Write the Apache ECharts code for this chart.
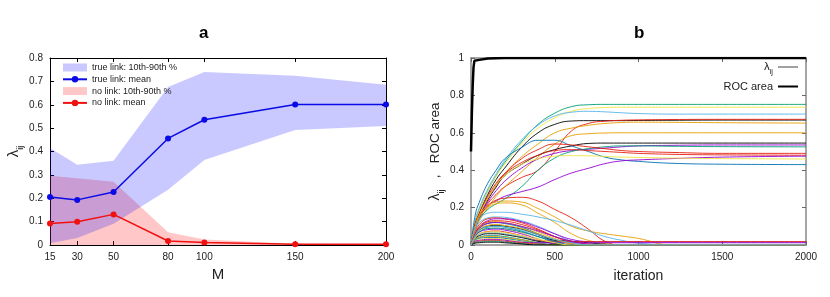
<!DOCTYPE html>
<html><head><meta charset="utf-8">
<script src="https://cdn.jsdelivr.net/npm/echarts@6/dist/echarts.min.js"></script>
<style>html,body{margin:0;padding:0;background:#fff}#c{width:830px;height:297px}</style>
</head><body><div id="c"></div>
<script>
// ---------- Panel a data ----------
const M_values = [15, 30, 50, 80, 100, 150, 200];
const mTickLabels = [15, 30, 50, 80, 100, 150, 200];
const trueMean = [0.205, 0.193, 0.227, 0.456, 0.536, 0.601, 0.601];
const trueP10  = [0.008, 0.030, 0.091, 0.236, 0.364, 0.492, 0.509];
const trueP90  = [0.415, 0.343, 0.360, 0.676, 0.740, 0.724, 0.686];
const noMean   = [0.092, 0.099, 0.131, 0.017, 0.011, 0.003, 0.003];
const noP10    = [0, 0, 0, 0, 0, 0, 0];
const noP90    = [0.296, 0.286, 0.271, 0.055, 0.024, 0.005, 0.003];

// ---------- Panel b data ----------
const iterSteps = [0, 25, 50, 100, 150, 200, 300, 400, 500, 600, 700, 800, 900, 1000, 1200, 1500, 2000];
const rocIter = [0, 5, 10, 15, 20, 50, 100, 200, 500, 1000, 2000];
const rocArea = [0.5, 0.7, 0.85, 0.95, 0.985, 0.99, 0.997, 1, 1, 1, 1];
const lambdaColors = [
  '#009e73','#f0e442','#56b4e9','#000000','#e51e10','#e69f00','#e69f00','#000000','#9400d3','#009e73',
  '#0072b2','#e51e10','#e51e10','#9400d3','#f0e442',
  '#e51e10','#e69f00','#e69f00','#56b4e9',
  '#56b4e9','#e51e10','#9400d3','#e69f00','#0072b2','#000000','#009e73','#f0e442','#9400d3','#e51e10',
  '#56b4e9','#000000','#009e73','#e69f00','#0072b2','#f0e442','#9400d3','#e51e10','#009e73','#000000',
  '#e51e10','#9400d3','#e69f00','#0072b2','#f0e442','#56b4e9'
];
const lambdaCurves = [
  [0,.12,.19,.29,.37,.44,.55,.645,.705,.74,.75,.752,.752,.752,.752,.752,.752],
  [0,.12,.19,.29,.37,.43,.54,.625,.68,.715,.73,.735,.737,.737,.737,.737,.737],
  [0,.13,.2,.3,.38,.45,.56,.64,.69,.71,.715,.712,.707,.703,.70,.70,.70],
  [0,.11,.17,.27,.35,.41,.52,.6,.645,.663,.665,.665,.665,.666,.667,.668,.668],
  [0,.09,.14,.22,.27,.31,.36,.40,.50,.61,.65,.662,.667,.669,.671,.672,.672],
  [0,.1,.16,.25,.32,.38,.47,.54,.60,.625,.64,.65,.655,.657,.656,.654,.652],
  [0,.08,.13,.2,.26,.31,.39,.47,.54,.585,.595,.599,.60,.60,.60,.60,.60],
  [0,.09,.15,.24,.31,.37,.43,.48,.51,.53,.543,.545,.545,.545,.545,.545,.545],
  [0,.09,.15,.23,.29,.34,.41,.46,.49,.505,.512,.518,.525,.53,.533,.535,.535],
  [0,.09,.14,.19,.22,.245,.31,.40,.465,.50,.515,.525,.53,.53,.528,.526,.525],
  [0,.16,.23,.33,.40,.46,.52,.56,.56,.53,.50,.47,.455,.447,.437,.432,.43],
  [0,.1,.16,.25,.32,.38,.46,.51,.54,.535,.525,.515,.505,.5,.495,.49,.49],
  [0,.11,.17,.26,.33,.38,.44,.48,.505,.51,.505,.5,.495,.49,.485,.482,.48],
  [0,.1,.15,.21,.235,.26,.285,.31,.35,.385,.41,.435,.45,.455,.462,.47,.475],
  [0,.1,.16,.25,.32,.37,.43,.46,.475,.478,.477,.474,.47,.468,.465,.462,.46],
  [0,.1,.16,.21,.24,.25,.255,.235,.19,.145,.085,.02,0,0,0,0,0],
  [0,.1,.16,.21,.23,.235,.23,.195,.15,.10,.075,.06,.048,.035,0,0,0],
  [0,.09,.15,.2,.22,.225,.215,.17,.12,.06,.025,.008,0,0,0,0,0],
  [0,.09,.14,.17,.175,.175,.165,.15,.13,.105,.075,.045,.025,.01,0,0,0],
  [0,.08,.12,.145,.15,.148,.13,.1,.06,.02,0,0,0,0,0,0,0],
  [0,.07,.11,.14,.145,.14,.12,.085,.045,.01,0,0,0,0,0,0,0],
  [0,.06,.1,.13,.14,.14,.125,.095,.06,.03,.018,.016,.016,.016,.016,.016,.016],
  [0,.07,.1,.12,.125,.12,.1,.07,.035,.005,0,0,0,0,0,0,0],
  [0,.06,.09,.115,.12,.115,.095,.06,.025,0,0,0,0,0,0,0,0],
  [0,.05,.08,.1,.105,.1,.085,.055,.025,.02,.012,.004,0,0,0,0,0],
  [0,.05,.08,.095,.1,.095,.075,.045,.015,0,0,0,0,0,0,0,0],
  [0,.05,.075,.088,.09,.085,.065,.035,.01,0,0,0,0,0,0,0,0],
  [0,.05,.07,.082,.085,.08,.06,.03,.005,0,0,0,0,0,0,0,0],
  [0,.04,.06,.072,.075,.07,.05,.025,.02,.018,.018,.018,.018,.018,.018,.018,.018],
  [0,.04,.055,.065,.065,.06,.045,.02,0,0,0,0,0,0,0,0,0],
  [0,.035,.05,.06,.06,.055,.04,.02,.01,0,0,0,0,0,0,0,0],
  [0,.03,.042,.05,.05,.045,.03,.012,0,0,0,0,0,0,0,0,0],
  [0,.03,.04,.045,.045,.04,.028,.01,0,0,0,0,0,0,0,0,0],
  [0,.025,.035,.04,.04,.036,.022,.008,0,0,0,0,0,0,0,0,0],
  [0,.02,.03,.035,.035,.03,.018,.005,0,0,0,0,0,0,0,0,0],
  [0,.02,.025,.03,.03,.026,.015,.012,.012,.012,.012,.012,.012,.012,.012,.012,.012],
  [0,.015,.02,.025,.025,.02,.012,.004,0,0,0,0,0,0,0,0,0],
  [0,.012,.016,.02,.02,.016,.008,0,0,0,0,0,0,0,0,0,0],
  [0,.01,.012,.015,.015,.012,.006,0,0,0,0,0,0,0,0,0,0],
  [0,.06,.095,.125,.13,.128,.11,.08,.045,.02,.005,0,0,0,0,0,0],
  [0,.055,.09,.115,.12,.118,.1,.075,.045,.02,.005,0,0,0,0,0,0],
  [0,.05,.085,.105,.11,.105,.088,.06,.03,.008,0,0,0,0,0,0,0],
  [0,.045,.07,.088,.09,.087,.07,.045,.02,0,0,0,0,0,0,0,0],
  [0,.04,.06,.07,.07,.066,.05,.03,.012,0,0,0,0,0,0,0,0],
  [0,.05,.08,.098,.1,.097,.08,.055,.03,.012,0,0,0,0,0,0,0]
];

const FONT = 'Liberation Sans';
const chart = echarts.init(document.getElementById('c'), null, {renderer: 'canvas'});

function band(lo, hi, color, z) {
  return {
    type: 'custom', xAxisIndex: 0, yAxisIndex: 0, silent: true, z: z,
    data: M_values.map((m, i) => [m, lo[i], hi[i]]),
    encode: {x: 0, y: [1, 2]},
    renderItem: function (params, api) {
      if (params.dataIndex !== 0) return null;
      const pts = [];
      for (let i = 0; i < M_values.length; i++) pts.push(api.coord([M_values[i], hi[i]]));
      for (let i = M_values.length - 1; i >= 0; i--) pts.push(api.coord([M_values[i], lo[i]]));
      return {type: 'polygon', shape: {points: pts}, style: {fill: color}};
    }
  };
}

const tickStyleA = {show: true, inside: true, length: 4, lineStyle: {color: '#000', width: 1}};
const tickStyleB = {show: true, inside: true, length: 4, lineStyle: {color: '#666', width: 1}};
const lineA = {show: true, onZero: false, lineStyle: {color: '#000', width: 1}};
const lineB = {show: true, onZero: false, lineStyle: {color: '#888', width: 1.5}};
const lbl = {color: '#222', fontSize: 10, fontFamily: FONT};

const series = [];
series.push(Object.assign(band(noP10, noP90, 'rgba(255,0,0,0.22)', 1), {name: 'no link: 10th-90th %'}));
series.push(Object.assign(band(trueP10, trueP90, 'rgba(0,0,255,0.21)', 2), {name: 'true link: 10th-90th %'}));
series.push({
  type: 'line', name: 'true link: mean', xAxisIndex: 0, yAxisIndex: 0, z: 5,
  data: M_values.map((m, i) => [m, trueMean[i]]),
  symbol: 'circle', symbolSize: 6, lineStyle: {color: '#0a0ae6', width: 1.5},
  itemStyle: {color: '#0a0ae6'}
});
series.push({
  type: 'line', name: 'no link: mean', xAxisIndex: 0, yAxisIndex: 0, z: 5,
  data: M_values.map((m, i) => [m, noMean[i]]),
  symbol: 'circle', symbolSize: 6, lineStyle: {color: '#f01010', width: 1.5},
  itemStyle: {color: '#f01010'}
});

lambdaCurves.forEach((vals, k) => {
  series.push({
    type: 'line', xAxisIndex: 2, yAxisIndex: 2, silent: true, z: 3,
    data: iterSteps.map((t, i) => [t, vals[i]]),
    symbol: 'none', smooth: 0.45,
    lineStyle: {color: lambdaColors[k % lambdaColors.length], width: 1, opacity: 0.9}
  });
});
series.push({
  type: 'line', name: 'lam', xAxisIndex: 2, yAxisIndex: 2, data: [],
  symbol: 'none', lineStyle: {color: '#a0a0a0', width: 1.5}, itemStyle: {color: '#a0a0a0'}
});
series.push({
  type: 'line', name: 'ROC area', xAxisIndex: 2, yAxisIndex: 2, z: 6,
  data: rocIter.map((t, i) => [t, rocArea[i]]),
  symbol: 'none', lineStyle: {color: '#000', width: 2.5}, itemStyle: {color: '#000'}
});

const option = {
  animation: false,
  backgroundColor: '#fff',
  textStyle: {fontFamily: FONT},
  grid: [
    {left: 50, top: 58, width: 336, height: 187},
    {left: 471, top: 58, width: 335, height: 187}
  ],
  xAxis: [
    {type: 'value', gridIndex: 0, min: 15, max: 200, position: 'bottom',
     axisLine: lineA, splitLine: {show: false},
     axisTick: Object.assign({customValues: mTickLabels}, tickStyleA),
     axisLabel: Object.assign({customValues: mTickLabels, margin: 7}, lbl),
     name: 'M', nameLocation: 'middle', nameGap: 21,
     nameTextStyle: {fontSize: 15, color: '#222', fontFamily: FONT}},
    {type: 'value', gridIndex: 0, min: 15, max: 200, position: 'top',
     axisLine: lineA, splitLine: {show: false},
     axisTick: Object.assign({customValues: mTickLabels}, tickStyleA),
     axisLabel: {show: false}},
    {type: 'value', gridIndex: 1, min: 0, max: 2000, interval: 500, position: 'bottom',
     axisLine: lineB, splitLine: {show: false}, axisTick: tickStyleB,
     axisLabel: Object.assign({margin: 7, formatter: v => String(v)}, lbl),
     name: 'iteration', nameLocation: 'middle', nameGap: 24,
     nameTextStyle: {fontSize: 14, color: '#222', fontFamily: FONT}},
    {type: 'value', gridIndex: 1, min: 0, max: 2000, interval: 500, position: 'top',
     axisLine: lineB, splitLine: {show: false}, axisTick: tickStyleB, axisLabel: {show: false}}
  ],
  yAxis: [
    {type: 'value', gridIndex: 0, min: 0, max: 0.8, interval: 0.1, position: 'left',
     axisLine: lineA, splitLine: {show: false}, axisTick: tickStyleA,
     axisLabel: Object.assign({margin: 7}, lbl),
     name: '{l|λ}{s|ij}', nameLocation: 'middle', nameGap: 25, nameRotate: 90,
     nameTextStyle: {rich: {
       l: {fontSize: 15, color: '#222', fontFamily: FONT, lineHeight: 18},
       s: {fontSize: 9, color: '#222', fontFamily: FONT, lineHeight: 18, verticalAlign: 'bottom', padding: [0, 0, -2, 0]}
     }}},
    {type: 'value', gridIndex: 0, min: 0, max: 0.8, interval: 0.1, position: 'right',
     axisLine: lineA, splitLine: {show: false}, axisTick: tickStyleA, axisLabel: {show: false}},
    {type: 'value', gridIndex: 1, min: 0, max: 1, interval: 0.2, position: 'left',
     axisLine: lineB, splitLine: {show: false}, axisTick: tickStyleB,
     axisLabel: Object.assign({margin: 7}, lbl),
     name: '{l|λ}{s|ij}{n|   ,   ROC area}', nameLocation: 'middle', nameGap: 21, nameRotate: 90,
     nameTextStyle: {rich: {
       l: {fontSize: 14, color: '#222', fontFamily: FONT, lineHeight: 18},
       s: {fontSize: 9, color: '#222', fontFamily: FONT, lineHeight: 18, verticalAlign: 'bottom', padding: [0, 0, -2, 0]},
       n: {fontSize: 13.5, color: '#222', fontFamily: FONT, lineHeight: 18}
     }}},
    {type: 'value', gridIndex: 1, min: 0, max: 1, interval: 0.2, position: 'right',
     axisLine: lineB, splitLine: {show: false}, axisTick: tickStyleB, axisLabel: {show: false}}
  ],
  legend: [
    {left: 57, top: 58, orient: 'vertical', itemGap: 2.8, itemWidth: 24, itemHeight: 8,
     textStyle: {fontSize: 9, color: '#222', fontFamily: FONT},
     data: [
       {name: 'true link: 10th-90th %', icon: 'rect', itemStyle: {color: 'rgba(0,0,255,0.21)'}},
       {name: 'true link: mean'},
       {name: 'no link: 10th-90th %', icon: 'rect', itemStyle: {color: 'rgba(255,0,0,0.22)'}},
       {name: 'no link: mean'}
     ]},
    {right: 27, top: 56, orient: 'vertical', align: 'right', itemGap: 5, itemWidth: 20, itemHeight: 2,
     textStyle: {fontSize: 11, color: '#222', fontFamily: FONT, rich: {
       l: {fontSize: 11.5, color: '#222', fontFamily: FONT},
       s: {fontSize: 7.5, color: '#222', fontFamily: FONT, verticalAlign: 'bottom', padding: [0, 0, -3, 0]}
     }},
     formatter: function (n) { return n === 'lam' ? '{l|λ}{s|ij}' : n; },
     data: [
       {name: 'lam', icon: 'rect', itemStyle: {color: '#a0a0a0'}},
       {name: 'ROC area', icon: 'rect', itemStyle: {color: '#000'}}
     ]}
  ],
  graphic: [
    {type: 'text', left: 199, top: 25, style: {text: 'a', font: 'bold 17px ' + FONT, fill: '#000'}},
    {type: 'text', left: 634, top: 25, style: {text: 'b', font: 'bold 17px ' + FONT, fill: '#000'}}
  ],
  series: series
};
chart.setOption(option);
</script></body></html>
